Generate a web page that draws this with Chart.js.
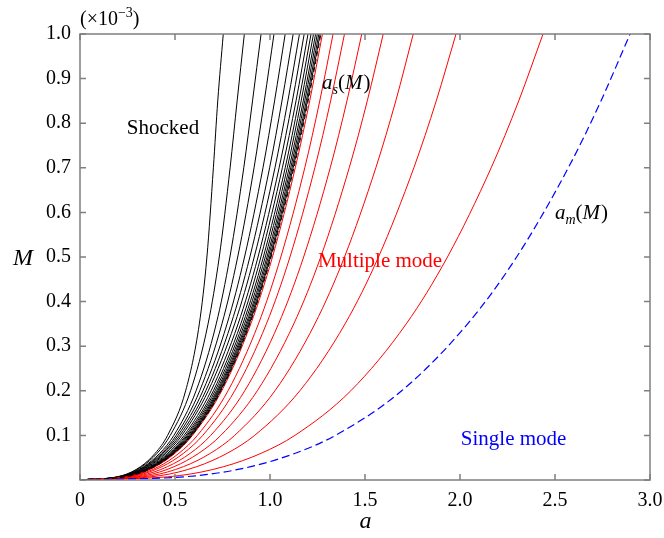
<!DOCTYPE html>
<html>
<head>
<meta charset="utf-8">
<script src="https://cdn.jsdelivr.net/npm/chart.js@4.4.1/dist/chart.umd.min.js"></script>
<style>
  html, body { margin: 0; padding: 0; background: #fff; }
</style>
</head>
<body>
<canvas id="myChart" width="664" height="538"></canvas>
<script>
// M levels (x1e-3) at which each curve's a value was read
const mLevels = [0, 0.01, 0.03, 0.06, 0.1, 0.2, 0.35, 0.5, 0.7, 0.85, 1.0];

// black curves (shocked side)
const shockedCurves = [
  [0, 0.223, 0.319, 0.396, 0.461, 0.556, 0.628, 0.668, 0.702, 0.725, 0.754],
  [0, 0.227, 0.325, 0.406, 0.475, 0.582, 0.674, 0.733, 0.790, 0.827, 0.865],
  [0, 0.233, 0.335, 0.420, 0.494, 0.611, 0.717, 0.789, 0.862, 0.908, 0.953],
  [0, 0.237, 0.341, 0.429, 0.506, 0.630, 0.747, 0.830, 0.916, 0.970, 1.021],
  [0, 0.241, 0.347, 0.436, 0.516, 0.647, 0.774, 0.866, 0.963, 1.024, 1.080],
  [0, 0.245, 0.353, 0.444, 0.526, 0.662, 0.795, 0.894, 0.998, 1.063, 1.122],
  [0, 0.249, 0.359, 0.452, 0.536, 0.675, 0.814, 0.917, 1.026, 1.094, 1.155],
  [0, 0.254, 0.367, 0.462, 0.548, 0.690, 0.832, 0.937, 1.048, 1.118, 1.180],
  [0, 0.258, 0.373, 0.470, 0.557, 0.702, 0.846, 0.952, 1.065, 1.137, 1.200],
  [0, 0.262, 0.378, 0.476, 0.564, 0.711, 0.857, 0.965, 1.080, 1.152, 1.216],
  [0, 0.265, 0.382, 0.481, 0.570, 0.719, 0.866, 0.975, 1.091, 1.164, 1.229],
  [0, 0.267, 0.385, 0.485, 0.576, 0.725, 0.874, 0.984, 1.101, 1.175, 1.240],
  [0, 0.269, 0.388, 0.489, 0.580, 0.730, 0.880, 0.991, 1.109, 1.183, 1.249],
  [0, 0.271, 0.391, 0.492, 0.584, 0.735, 0.886, 0.998, 1.116, 1.191, 1.257],
  [0, 0.272, 0.393, 0.495, 0.587, 0.739, 0.891, 1.003, 1.122, 1.197, 1.264]
];

// red curves (multiple mode)
const multipleCurves = [
  [0, 0.275, 0.396, 0.500, 0.592, 0.746, 0.899, 1.013, 1.133, 1.209, 1.276],
  [0, 0.287, 0.414, 0.521, 0.618, 0.779, 0.939, 1.057, 1.183, 1.262, 1.332],
  [0, 0.300, 0.432, 0.545, 0.646, 0.814, 0.981, 1.105, 1.236, 1.319, 1.392],
  [0, 0.319, 0.461, 0.581, 0.688, 0.867, 1.045, 1.177, 1.317, 1.405, 1.483],
  [0, 0.344, 0.496, 0.625, 0.741, 0.933, 1.125, 1.267, 1.417, 1.512, 1.596],
  [0, 0.378, 0.545, 0.687, 0.814, 1.026, 1.236, 1.392, 1.557, 1.662, 1.754],
  [0, 0.426, 0.615, 0.775, 0.919, 1.157, 1.395, 1.571, 1.757, 1.875, 1.979],
  [0, 0.525, 0.757, 0.954, 1.131, 1.425, 1.717, 1.934, 2.164, 2.309, 2.437]
];

// boundary curves a_s(M) and a_m(M)
const asCurve = [0, 0.273, 0.394, 0.496, 0.589, 0.742, 0.894, 1.006, 1.126, 1.201, 1.268];
const amCurve = [0, 0.624, 0.899, 1.133, 1.344, 1.693, 2.040, 2.298, 2.570, 2.742, 2.895];

const xTicks = [0, 0.5, 1.0, 1.5, 2.0, 2.5, 3.0];
const yTicks = [0, 0.1, 0.2, 0.3, 0.4, 0.5, 0.6, 0.7, 0.8, 0.9, 1.0];

const SERIF = '"Liberation Serif", "Times New Roman", serif';

function toPoints(as) {
  return as.map((a, i) => ({ x: a, y: mLevels[i] }));
}

const datasets = [];
shockedCurves.forEach(c => datasets.push({
  data: toPoints(c), borderColor: '#000000', borderWidth: 1, order: 3
}));
multipleCurves.forEach(c => datasets.push({
  data: toPoints(c), borderColor: '#ff0000', borderWidth: 1, order: 2
}));
datasets.push({ data: toPoints(asCurve), borderColor: '#000000', borderWidth: 1, borderDash: [5, 3], order: 1 });
datasets.push({ data: toPoints(amCurve), borderColor: '#0000ff', borderWidth: 1.2, borderDash: [8, 4], order: 1 });

// frame with inward ticks on all four sides
const frameTicks = {
  id: 'frameTicks',
  afterDatasetsDraw(chart) {
    const { ctx, chartArea: { left, right, top, bottom }, scales: { x, y } } = chart;
    const len = 6;
    ctx.save();
    ctx.strokeStyle = '#7f7f7f';
    ctx.lineWidth = 1.5;
    ctx.beginPath();
    xTicks.forEach(v => {
      const px = x.getPixelForValue(v);
      ctx.moveTo(px, bottom); ctx.lineTo(px, bottom - len);
      ctx.moveTo(px, top); ctx.lineTo(px, top + len);
    });
    yTicks.forEach(v => {
      const py = y.getPixelForValue(v);
      ctx.moveTo(left, py); ctx.lineTo(left + len, py);
      ctx.moveTo(right, py); ctx.lineTo(right - len, py);
    });
    ctx.stroke();
    ctx.strokeRect(left, top, right - left, bottom - top);
    ctx.restore();
  }
};

// draw a run of text pieces with their own fonts / offsets
function drawRuns(ctx, x0, y0, runs, color) {
  let xx = x0;
  ctx.fillStyle = color;
  ctx.textBaseline = 'alphabetic';
  ctx.textAlign = 'left';
  runs.forEach(r => {
    ctx.font = r.f;
    ctx.fillText(r.t, xx, y0 + (r.dy || 0));
    xx += ctx.measureText(r.t).width + (r.gap || 0);
  });
}

const labels = {
  id: 'labels',
  afterDraw(chart) {
    const { ctx, chartArea: { left, top, bottom, right }, scales: { x, y } } = chart;
    ctx.save();
    ctx.textBaseline = 'middle';
    ctx.textAlign = 'center';

    ctx.font = '21px ' + SERIF;
    ctx.fillStyle = '#000000';
    ctx.fillText('Shocked', x.getPixelForValue(0.437), y.getPixelForValue(0.789));

    ctx.fillStyle = '#ff0000';
    ctx.fillText('Multiple mode', x.getPixelForValue(1.579), y.getPixelForValue(0.491));

    ctx.fillStyle = '#0000ff';
    ctx.fillText('Single mode', x.getPixelForValue(2.282), y.getPixelForValue(0.09));

    const it = 'italic 21px ' + SERIF;
    const rm = '21px ' + SERIF;
    const sub = 'italic 14px ' + SERIF;
    drawRuns(ctx, x.getPixelForValue(1.274), y.getPixelForValue(0.876), [
      { t: 'a', f: it }, { t: 's', f: sub, dy: 5 }, { t: '(', f: rm }, { t: 'M', f: it, gap: 1 }, { t: ')', f: rm }
    ], '#000000');
    drawRuns(ctx, x.getPixelForValue(2.5), y.getPixelForValue(0.585), [
      { t: 'a', f: it }, { t: 'm', f: sub, dy: 5 }, { t: '(', f: rm }, { t: 'M', f: it, gap: 1 }, { t: ')', f: rm }
    ], '#000000');

    // multiplier above the y axis
    drawRuns(ctx, left, top - 9, [
      { t: '(\u00d710', f: '20px ' + SERIF }, { t: '\u22123', f: '14px ' + SERIF, dy: -8 }, { t: ')', f: '20px ' + SERIF }
    ], '#000000');

    // axis titles
    ctx.font = 'italic 24px ' + SERIF;
    ctx.fillStyle = '#000000';
    ctx.textAlign = 'center';
    ctx.textBaseline = 'alphabetic';
    ctx.fillText('a', (left + right) / 2 + 0.5, 528);
    ctx.fillText('M', 23, (top + bottom) / 2 + 8);
    ctx.restore();
  }
};

const config = {
  type: 'line',
  data: { datasets: datasets },
  options: {
    responsive: false,
    animation: false,
    layout: { padding: { top: 34, right: 14, left: 0, bottom: 0 } },
    elements: {
      point: { radius: 0 },
      line: { cubicInterpolationMode: 'monotone', fill: false }
    },
    scales: {
      x: {
        type: 'linear',
        min: 0,
        max: 3,
        afterFit: s => { s.height = 58; s.paddingLeft = 0; s.paddingRight = 0; },
        grid: { display: false, drawTicks: false },
        border: { display: false },
        ticks: {
          stepSize: 0.5,
          padding: 9,
          color: '#000000',
          maxRotation: 0,
          font: { family: SERIF, size: 20 },
          callback: v => v === 0 ? '0' : v.toFixed(1)
        }
      },
      y: {
        type: 'linear',
        min: 0,
        max: 1,
        afterFit: s => { s.width = 80; s.paddingTop = 0; s.paddingBottom = 0; },
        grid: { display: false, drawTicks: false },
        border: { display: false },
        ticks: {
          stepSize: 0.1,
          padding: 9,
          color: '#000000',
          font: { family: SERIF, size: 20 },
          callback: v => Math.abs(v) < 1e-9 ? '' : v.toFixed(1)
        }
      }
    },
    plugins: {
      legend: { display: false },
      tooltip: { enabled: false },
      title: { display: false }
    }
  },
  plugins: [frameTicks, labels]
};

var myChart = new Chart(document.getElementById('myChart'), config);
</script>
</body>
</html>
